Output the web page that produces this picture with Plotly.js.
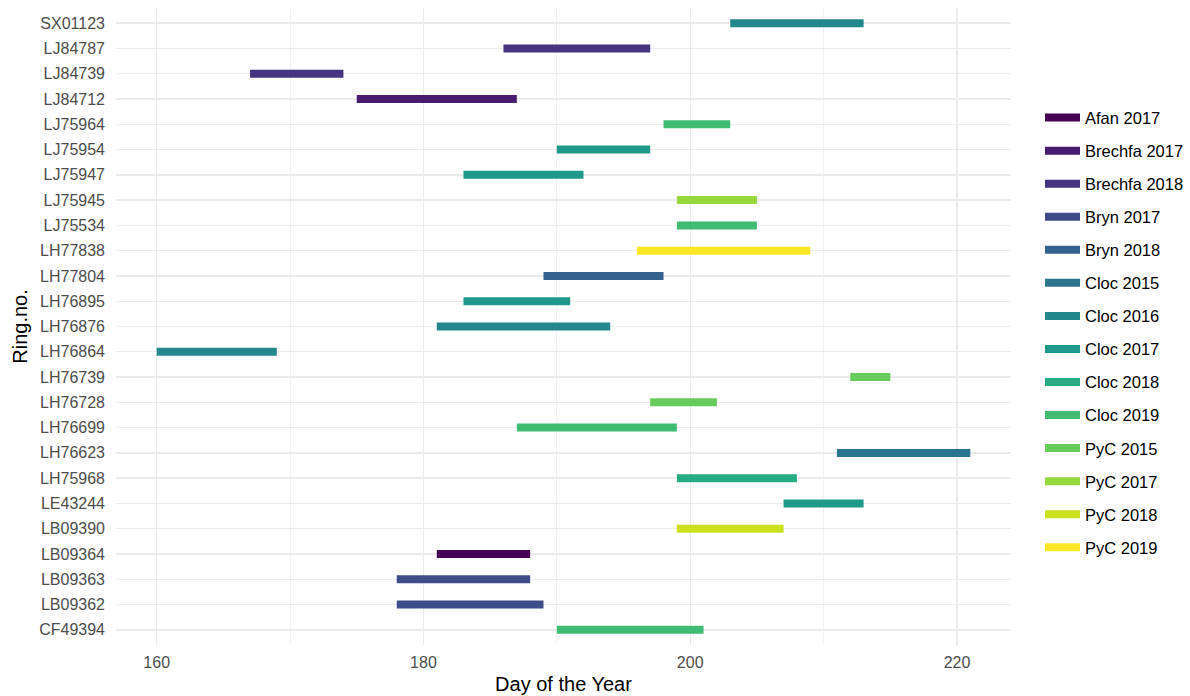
<!DOCTYPE html>
<html>
<head>
<meta charset="utf-8">
<script src="https://cdn.plot.ly/plotly-3.0.1.min.js"></script>
<style>html,body{margin:0;padding:0;background:#fff;}#chart{width:1190px;height:696px;}</style>
</head>
<body>
<div id="chart"></div>
<script>
const ringNo = ["SX01123","LJ84787","LJ84739","LJ84712","LJ75964","LJ75954","LJ75947","LJ75945","LJ75534","LH77838","LH77804","LH76895","LH76876","LH76864","LH76739","LH76728","LH76699","LH76623","LH75968","LE43244","LB09390","LB09364","LB09363","LB09362","CF49394"];
const startDay = [203,186,167,175,198,190,183,199,199,196,189,183,181,160,212,197,187,211,199,207,199,181,178,178,190];
const endDay   = [213,197,174,187,203,197,192,205,205,209,198,191,194,169,215,202,199,221,208,213,207,188,188,189,201];
const siteYear = ["Cloc 2016","Brechfa 2018","Brechfa 2018","Brechfa 2017","Cloc 2019","Cloc 2017","Cloc 2017","PyC 2017","Cloc 2019","PyC 2019","Bryn 2018","Cloc 2017","Cloc 2016","Cloc 2016","PyC 2015","PyC 2015","Cloc 2019","Cloc 2015","Cloc 2018","Cloc 2017","PyC 2018","Afan 2017","Bryn 2017","Bryn 2017","Cloc 2019"];
const groups = ["Afan 2017","Brechfa 2017","Brechfa 2018","Bryn 2017","Bryn 2018","Cloc 2015","Cloc 2016","Cloc 2017","Cloc 2018","Cloc 2019","PyC 2015","PyC 2017","PyC 2018","PyC 2019"];
const colors = ["#440154","#481C6E","#453581","#3D4D8A","#34618D","#2B748E","#24878E","#1F998A","#25AC82","#40BC72","#67CC5C","#97D83F","#CBE11E","#FDE725"];
const xTicks = [160,180,200,220];

const traces = groups.map((g, gi) => {
  const xs = [], ys = [];
  siteYear.forEach((s, i) => {
    if (s === g) { xs.push(startDay[i], endDay[i], null); ys.push(ringNo[i], ringNo[i], null); }
  });
  return {type:"scatter", mode:"lines", x:xs, y:ys, name:g, legendgroup:g,
          line:{color:colors[gi], width:8}, connectgaps:false, hoverinfo:"x+y+name"};
});

const catOrder = ringNo.slice().sort();

const layout = {
  width:1190, height:696,
  margin:{l:116, r:179, t:8, b:51, autoexpand:false},
  paper_bgcolor:"#fff", plot_bgcolor:"#fff",
  font:{family:"Liberation Sans, Arial, sans-serif", color:"#4D4D4D", size:16},
  xaxis:{range:[156.95,224.05], tickvals:xTicks, ticktext:xTicks.map(String), showgrid:true,
         gridcolor:"#EBEBEB", gridwidth:1.4, zeroline:false, showline:false, ticks:"", ticklabelstandoff:6,
         minor:{tickvals:[170,190,210], showgrid:true, gridcolor:"#F1F1F1", gridwidth:1},
         tickfont:{size:16, color:"#4D4D4D"}, automargin:false,
         title:{text:"Day of the Year", font:{size:20, color:"#000"}, standoff:6}},
  yaxis:{type:"category", categoryorder:"array", categoryarray:catOrder, range:[-0.6, 24.6],
         showgrid:true, gridcolor:"#EBEBEB", gridwidth:1.4, zeroline:false, showline:false, ticks:"",
         ticklabelstandoff:10, tickfont:{size:16, color:"#4D4D4D"}, automargin:false,
         title:{text:"Ring.no.", font:{size:20, color:"#000"}, standoff:6}},
  legend:{x:1.0324, xanchor:"left", y:0.855, yanchor:"top", tracegroupgap:8.6,
          font:{size:16.5, color:"#000"}, bgcolor:"rgba(0,0,0,0)", itemwidth:35},
  showlegend:true
};

Plotly.newPlot("chart", traces, layout, {displayModeBar:false, staticPlot:true});
</script>
</body>
</html>
